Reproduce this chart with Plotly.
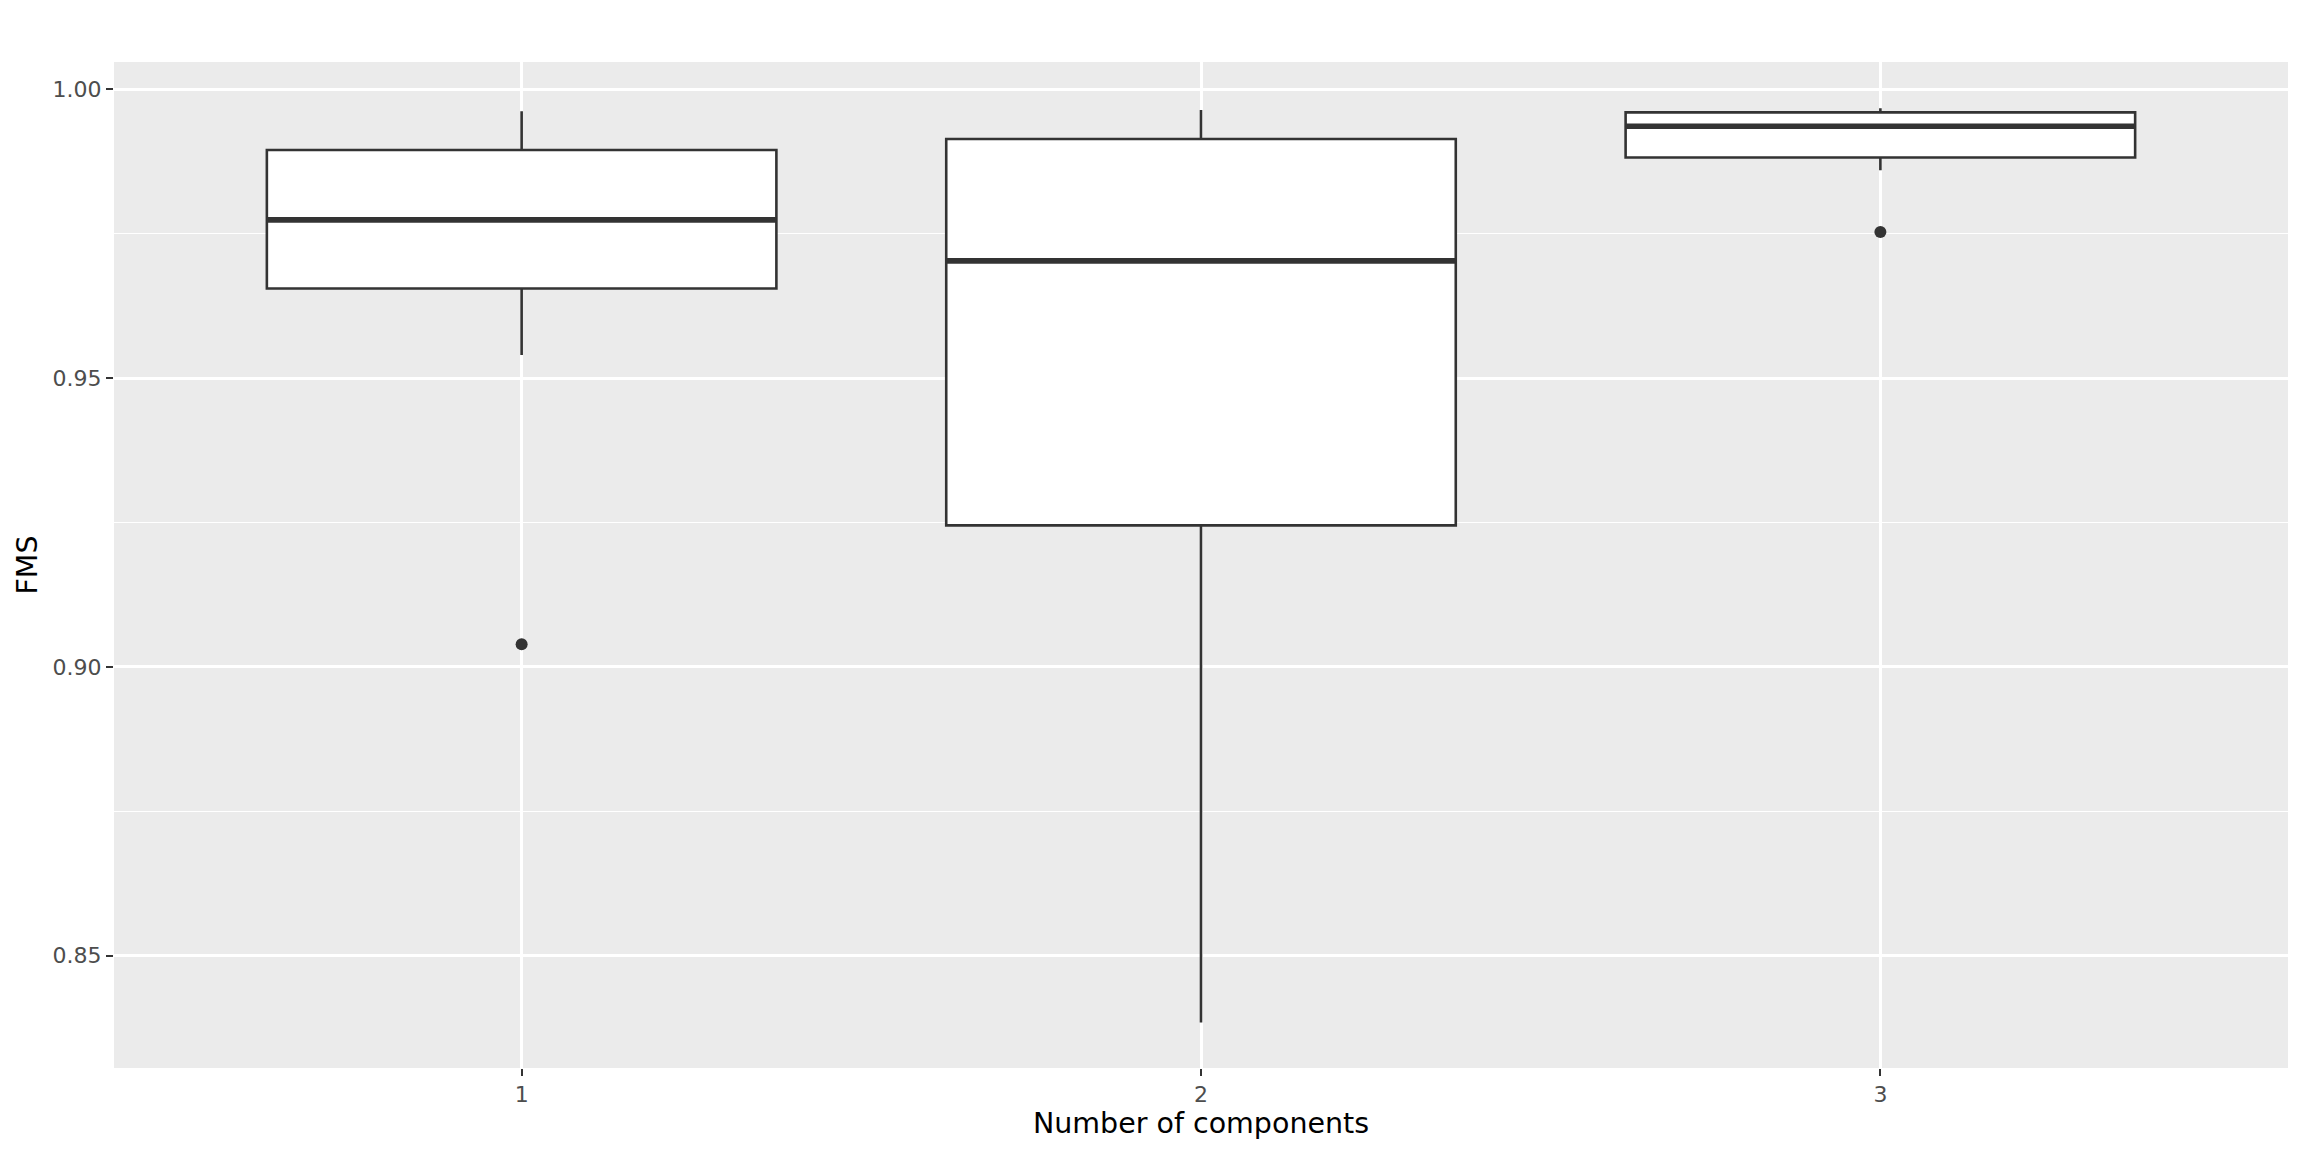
import plotly.graph_objects as go

# ---- data ----
components = [1, 2, 3]
tick_labels = ["1", "2", "3"]
lower_whisker = [0.9540, 0.8384, 0.9860]
q1 = [0.9655, 0.9245, 0.9882]
median = [0.9774, 0.9703, 0.9936]
q3 = [0.9895, 0.9914, 0.9960]
upper_whisker = [0.9962, 0.9964, 0.9967]
outlier_x = [1, 3]
outlier_y = [0.9039, 0.9753]

BOX_W = 0.75
LINE = "#333333"

fig = go.Figure()

for i, c in enumerate(components):
    fig.add_trace(go.Box(
        x=[c], q1=[q1[i]], median=[median[i]], q3=[q3[i]],
        lowerfence=[lower_whisker[i]], upperfence=[upper_whisker[i]],
        width=BOX_W, fillcolor="white",
        line=dict(color=LINE, width=2.6),
        whiskerwidth=0, boxpoints=False, showlegend=False,
        hoverinfo="skip",
    ))
    # thicker median line as in ggplot
    fig.add_trace(go.Scatter(
        x=[c - BOX_W / 2, c + BOX_W / 2], y=[median[i], median[i]],
        mode="lines", line=dict(color=LINE, width=5.6),
        showlegend=False, hoverinfo="skip",
    ))

fig.add_trace(go.Scatter(
    x=outlier_x, y=outlier_y, mode="markers",
    marker=dict(color=LINE, size=12, line=dict(width=0)),
    showlegend=False, hoverinfo="skip",
))

fig.update_layout(
    width=2304, height=1152,
    margin=dict(l=114, r=16, t=62, b=84),
    paper_bgcolor="white", plot_bgcolor="#EBEBEB",
    font=dict(family="DejaVu Sans", color="#4D4D4D", size=22),
    xaxis=dict(
        range=[0.4, 3.6], tickmode="array", tickvals=components,
        ticktext=tick_labels, showgrid=True, gridcolor="white", gridwidth=2.7,
        zeroline=False, showline=False,
        ticks="outside", ticklen=7, tickwidth=2, tickcolor=LINE,
        tickfont=dict(size=22, color="#4D4D4D"),
        title=dict(text="Number of components", font=dict(size=28.5, color="black"),
                   standoff=1),
        automargin=False,
    ),
    yaxis=dict(
        range=[0.83053, 1.00473], tickmode="array",
        tickvals=[0.85, 0.90, 0.95, 1.00], ticktext=["0.85", "0.90", "0.95", "1.00"],
        showgrid=True, gridcolor="white", gridwidth=2.7,
        minor=dict(tickvals=[0.875, 0.925, 0.975], showgrid=True,
                   gridcolor="white", gridwidth=1.3, ticks=""),
        zeroline=False, showline=False,
        ticks="outside", ticklen=7, tickwidth=2, tickcolor=LINE,
        tickfont=dict(size=22, color="#4D4D4D"),
        title=dict(text="FMS", font=dict(size=28.5, color="black"), standoff=6),
        automargin=False,
    ),
)

fig.write_html("out.html")
